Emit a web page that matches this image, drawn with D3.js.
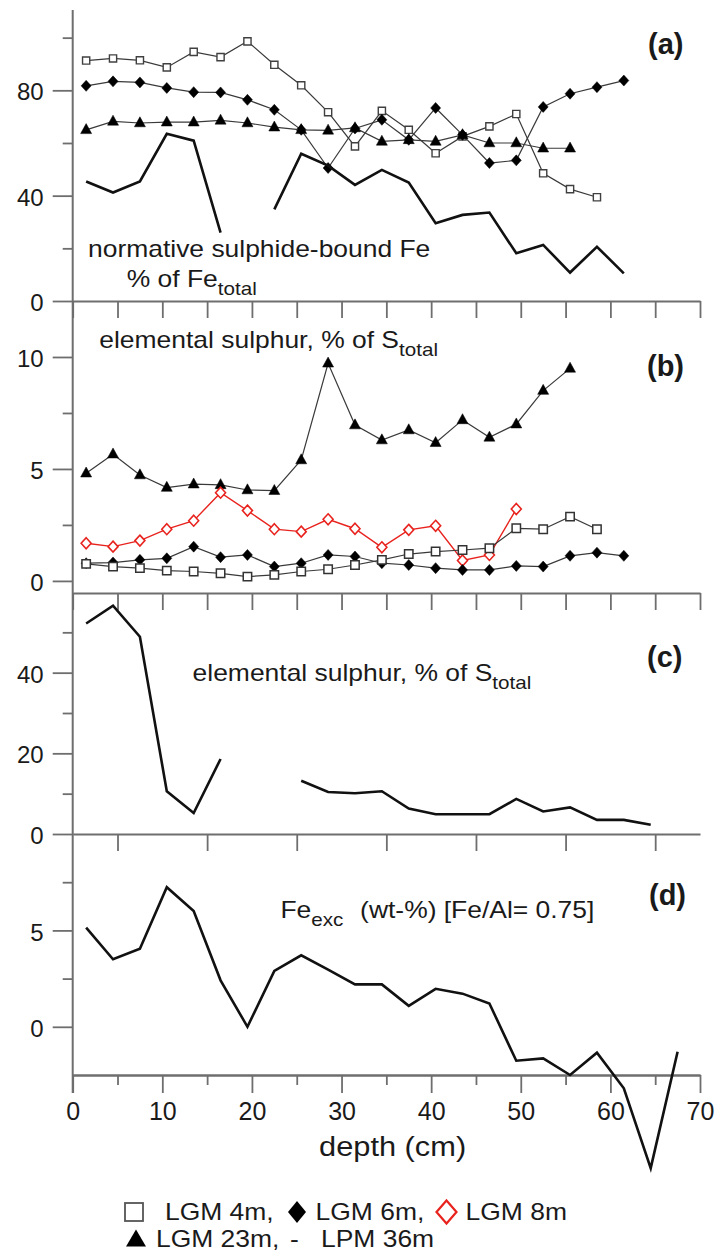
<!DOCTYPE html>
<html><head><meta charset="utf-8">
<script src="https://cdn.jsdelivr.net/npm/d3@7"></script>
<style>
html,body{margin:0;padding:0;background:#fff;}
svg{display:block;}
text{font-family:"Liberation Sans", Arial, Helvetica, sans-serif;fill:#1a1a1a;}
</style>
</head><body>
<svg id="chart" width="719" height="1258"></svg>
<script>
// ---------------- data ----------------
const depths = [1.5,4.5,7.5,10.5,13.5,16.5,19.5,22.5,25.5,28.5,31.5,34.5,37.5,40.5,43.5,46.5,49.5,52.5,55.5,58.5,61.5,64.5,67.5];

// panel (a): normative sulphide-bound Fe, % of Fe_total
const aLGM4  = [91.3,92.1,91.4,88.7,94.6,92.6,98.6,89.7,81.9,71.7,58.7,72.2,65.0,56.1,62.5,66.3,71.0,48.5,42.5,39.4];
const aLGM6  = [81.7,83.4,83.0,80.9,79.3,79.2,76.4,72.6,65.0,50.5,65.5,68.8,61.2,73.3,63.1,52.4,53.4,73.7,78.7,81.2,83.7];
const aLGM23 = [65.0,68.2,67.6,67.9,67.9,68.6,67.6,66.0,65.0,64.8,65.7,60.6,61.2,60.6,63.1,60.0,60.0,58.0,58.0];
const aLPM36 = [45.4,41.2,45.4,63.5,60.9,26.0,null,34.8,55.9,51.4,44.1,49.8,45.0,29.5,32.7,33.6,18.1,21.3,10.8,20.6,10.5];

// panel (b): elemental sulphur, % of S_total
const bLGM23 = [4.81,5.66,4.73,4.17,4.32,4.29,4.06,4.03,5.40,9.72,6.96,6.29,6.74,6.17,7.19,6.41,7.00,8.50,9.49];
const bLGM8  = [1.68,1.53,1.80,2.31,2.69,3.94,3.14,2.31,2.20,2.75,2.33,1.50,2.28,2.46,0.91,1.16,3.21];
const bLGM6  = [0.79,0.82,0.94,1.01,1.53,1.06,1.16,0.64,0.79,1.16,1.09,0.79,0.71,0.57,0.49,0.49,0.67,0.64,1.12,1.26,1.12];
const bLGM4  = [0.76,0.64,0.57,0.46,0.42,0.34,0.19,0.27,0.42,0.52,0.71,0.94,1.20,1.31,1.38,1.46,2.35,2.31,2.87,2.31];

// panel (c): elemental sulphur, % of S_total (LPM 36m)
const cLPM36 = [52.2,56.6,48.9,10.6,5.2,18.6,null,null,13.2,10.4,10.1,10.6,6.3,4.9,4.9,4.9,8.7,5.6,6.6,3.5,3.5,2.3];

// panel (d): Fe_exc (wt-%) (LPM 36m)
const dLPM36 = [5.14,3.50,4.05,7.24,6.00,2.41,0.00,2.90,3.71,2.97,2.20,2.20,1.09,1.97,1.72,1.21,-1.76,-1.64,-2.50,-1.34,-3.19,-7.33,-1.29];

// ticks
const xMajor = [0,10,20,30,40,50,60,70];
const xMinor = [5,15,25,35,45,55,65];
const xAll   = [0,5,10,15,20,25,30,35,40,45,50,55,60,65,70];
const aMajor = [0,40,80],  aMinor = [20,60,100];
const bMajor = [0,5,10],   bMinor = [2.5,7.5];
const cMajor = [0,20,40],  cMinor = [10,30,50];
const dMajor = [0,5],      dMinor = [2.5,7.5];

// ---------------- layout ----------------
const svg = d3.select('#chart');
const axisCol = '#6e6e6e';
const x  = d3.scaleLinear().domain([0,70]).range([72.7,700]);
const yA = d3.scaleLinear().domain([0,110.5]).range([301,10]);
const yB = d3.scaleLinear().domain([-0.54,12.5]).range([593,301]);
const yC = d3.scaleLinear().domain([0,60]).range([834,592]);
const yD = d3.scaleLinear().domain([-2.5,10]).range([1075,834]);

const toPts = arr => arr.map((v,i)=>({d:depths[i], v}));

// ---------------- axes ----------------
function styleAxis(g){
  g.selectAll('line').attr('stroke',axisCol).attr('stroke-width',1.8);
  g.selectAll('path.domain').attr('stroke',axisCol).attr('stroke-width',1.8);
}
// horizontal boundary lines with downward ticks
function hAxis(yPos, vals, len){
  const g = svg.append('g').attr('transform',`translate(0,${yPos})`)
    .call(d3.axisBottom(x).tickValues(vals).tickSize(len).tickSizeOuter(0).tickFormat(''));
  styleAxis(g);
  return g;
}
hAxis(yA(0), xAll, 17);
hAxis(yB(-0.54), xAll, 17);
hAxis(yC(0), xMinor, 17);
// bottom axis
const gxMin = svg.append('g').attr('transform',`translate(0,${yD(-2.5)})`)
  .call(d3.axisBottom(x).tickValues(xMinor).tickSize(10).tickSizeOuter(0).tickFormat(''));
styleAxis(gxMin);
const gx = svg.append('g').attr('transform',`translate(0,${yD(-2.5)})`)
  .call(d3.axisBottom(x).tickValues(xMajor).tickSize(18).tickSizeOuter(0).tickPadding(9).tickFormat(d3.format('d')));
styleAxis(gx);
gx.selectAll('text').attr('font-size',25).attr('fill','#1a1a1a')
  .style('font-family','"Liberation Sans", Arial, sans-serif');

// left axes
function yAxis(scale, major, minor){
  const g1 = svg.append('g').attr('transform',`translate(${x(0)},0)`)
    .call(d3.axisLeft(scale).tickValues(minor).tickSize(10).tickSizeOuter(0).tickFormat(''));
  g1.select('.domain').remove(); styleAxis(g1);
  const g2 = svg.append('g').attr('transform',`translate(${x(0)},0)`)
    .call(d3.axisLeft(scale).tickValues(major).tickSize(20).tickSizeOuter(0).tickPadding(9).tickFormat(d3.format('d')));
  g2.select('.domain').remove(); styleAxis(g2);
  g2.selectAll('text').attr('font-size',24).attr('dy','0.40em').attr('fill','#1a1a1a')
    .style('font-family','"Liberation Sans", Arial, sans-serif');
}
yAxis(yA, aMajor, aMinor);
yAxis(yB, bMajor, bMinor);
yAxis(yC, cMajor, cMinor);
yAxis(yD, dMajor, dMinor);
svg.append('line').attr('x1',x(0)).attr('x2',x(0)).attr('y1',yA(110.5)).attr('y2',yD(-2.5)+18)
  .attr('stroke',axisCol).attr('stroke-width',2);

// ---------------- marks ----------------
const sqPath  = s => `M${-s},${-s}H${s}V${s}H${-s}Z`;
const diaPath = (w,h) => `M0,${-h}L${w},0L0,${h}L${-w},0Z`;
const triPath = (w,h) => `M0,${-h*0.62}L${w},${h*0.38}L${-w},${h*0.38}Z`;

function series(yScale, arr, opt){
  const pts = toPts(arr);
  const line = d3.line().defined(d=>d.v!==null).x(d=>x(d.d)).y(d=>yScale(d.v));
  svg.append('path').datum(pts).attr('d',line)
    .attr('fill','none').attr('stroke',opt.lineColor).attr('stroke-width',opt.lineWidth)
    .attr('stroke-linejoin','miter');
  if(opt.marker){
    svg.append('g').selectAll('path').data(pts.filter(d=>d.v!==null)).join('path')
      .attr('transform',d=>`translate(${x(d.d)},${yScale(d.v)})`)
      .attr('d',opt.marker)
      .attr('fill',opt.fill).attr('stroke',opt.stroke).attr('stroke-width',opt.sw);
  }
}
const thin = '#3a3a3a';
// panel a
series(yA, aLGM4,  {lineColor:thin,lineWidth:1.2,marker:sqPath(3.6),fill:'#fff',stroke:'#404040',sw:1.4});
series(yA, aLGM6,  {lineColor:thin,lineWidth:1.2,marker:diaPath(5,5.5),fill:'#000',stroke:'#000',sw:0.5});
series(yA, aLGM23, {lineColor:thin,lineWidth:1.2,marker:triPath(5.5,10),fill:'#000',stroke:'#000',sw:0.5});
series(yA, aLPM36, {lineColor:'#111',lineWidth:2.6});
// panel b
series(yB, bLGM23, {lineColor:thin,lineWidth:1.2,marker:triPath(5.5,10),fill:'#000',stroke:'#000',sw:0.5});
series(yB, bLGM8,  {lineColor:'#e8231e',lineWidth:1.4,marker:diaPath(5,5.5),fill:'#fff',stroke:'#e8231e',sw:1.6});
series(yB, bLGM6,  {lineColor:thin,lineWidth:1.2,marker:diaPath(5,5.5),fill:'#000',stroke:'#000',sw:0.5});
series(yB, bLGM4,  {lineColor:thin,lineWidth:1.2,marker:sqPath(4.2),fill:'#fff',stroke:'#333',sw:1.5});
// panel c, d
series(yC, cLPM36, {lineColor:'#111',lineWidth:2.6});
series(yD, dLPM36, {lineColor:'#111',lineWidth:2.6});

// ---------------- texts ----------------
const SX = 1.15;
function label(xp, yp, parts, size, opts={}){
  const t = svg.append('text').attr('transform',`translate(${xp},${yp}) scale(${opts.sx||SX},1)`)
    .attr('font-size',size);
  if(opts.bold) t.attr('font-weight','bold');
  if(opts.anchor) t.attr('text-anchor',opts.anchor);
  parts.forEach(p=>{
    const ts = t.append('tspan').text(p.t);
    if(p.sub){ ts.attr('font-size',size*0.78).attr('dy',p.dy); }
    if(p.up){ ts.attr('dy',p.up); }
  });
  return t;
}
label(88, 257, [{t:'normative sulphide-bound Fe'}], 23);
label(126.7, 287, [{t:'% of Fe'},{t:'total',sub:true,dy:8}], 23);
label(99.3, 348.3, [{t:'elemental sulphur, % of S'},{t:'total',sub:true,dy:8}], 23);
label(192.6, 680.7, [{t:'elemental sulphur, % of S'},{t:'total',sub:true,dy:8}], 23);
label(280.4, 918.3, [{t:'Fe'},{t:'exc',sub:true,dy:8}], 23);
label(360.1, 918.3, [{t:'(wt-%) [Fe/Al= 0.75]'}], 23);

label(648, 54, [{t:'(a)'}], 29, {bold:true, sx:1.0});
label(647, 376, [{t:'(b)'}], 29, {bold:true, sx:1.0});
label(647, 667, [{t:'(c)'}], 29, {bold:true, sx:1.0});
label(649, 905, [{t:'(d)'}], 29, {bold:true, sx:1.0});

label(392.6, 1156, [{t:'depth (cm)'}], 28, {anchor:'middle', sx:1.1});

// ---------------- legend ----------------
const leg = svg.append('g');
leg.append('rect').attr('x',125).attr('y',1203).attr('width',18).attr('height',18)
  .attr('fill','#fff').attr('stroke','#555').attr('stroke-width',1.8);
label(165, 1220, [{t:'LGM 4m,'}], 23);
leg.append('path').attr('transform','translate(297,1212)').attr('d',diaPath(9,11)).attr('fill','#000');
label(315.6, 1220, [{t:'LGM 6m,'}], 23);
leg.append('path').attr('transform','translate(446.5,1212)').attr('d',diaPath(10,11.5))
  .attr('fill','#fff').attr('stroke','#e8231e').attr('stroke-width',2.2);
label(465.6, 1220, [{t:'LGM 8m'}], 23);
leg.append('path').attr('transform','translate(136,1240)').attr('d',triPath(10,17)).attr('fill','#000');
label(156, 1247, [{t:'LGM 23m,'}], 23);
label(290, 1247, [{t:'-'}], 23);
label(321, 1247, [{t:'LPM 36m'}], 23);
</script>
</body></html>
